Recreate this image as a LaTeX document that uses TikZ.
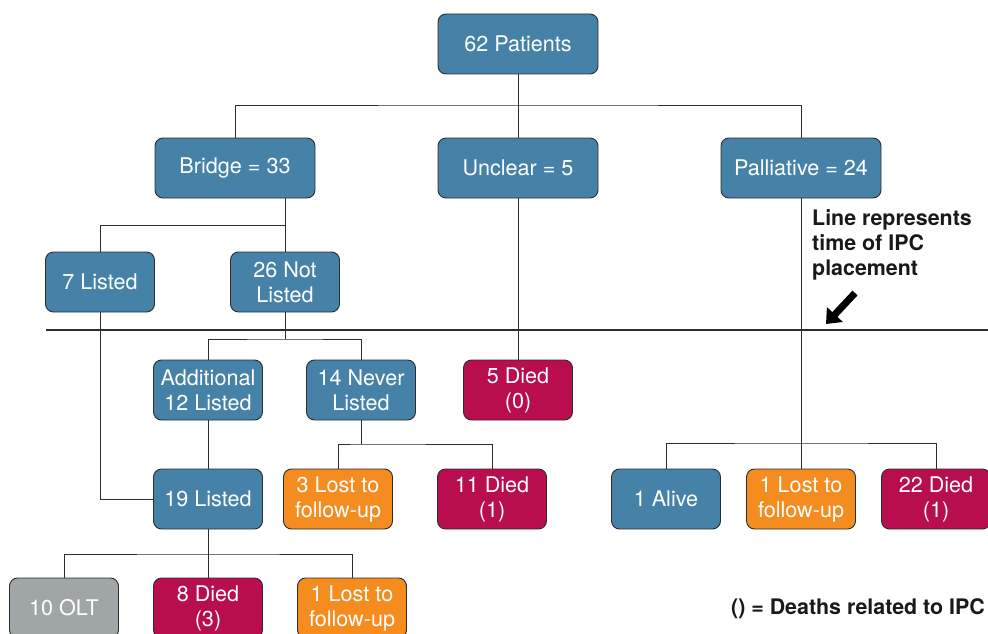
\documentclass[tikz,border=0pt]{standalone}
\usepackage{fontspec}
\setmainfont{TeX Gyre Heros}
\usetikzlibrary{arrows.meta}
\definecolor{blueC}{RGB}{70,130,168}
\definecolor{redC}{RGB}{184,14,80}
\definecolor{orangeC}{RGB}{245,140,32}
\definecolor{grayC}{RGB}{160,165,168}
\definecolor{lineC}{RGB}{45,45,45}
\begin{document}
\begin{tikzpicture}[x=1pt,y=-1pt,
  box/.style={draw=lineC, line width=0.9pt, rounded corners=8pt, minimum height=60pt,
    minimum width=109pt, text=white, align=center, inner sep=2pt,
    font=\fontsize{21.6}{25}\selectfont},
  wide/.style={box, minimum width=160pt},
  bluebox/.style={box, fill=blueC},
  redbox/.style={box, fill=redC},
  orangebox/.style={box, fill=orangeC},
  graybox/.style={box, fill=grayC},
  conn/.style={draw=lineC, line width=0.9pt},
  note/.style={font=\fontsize{21.4}{25}\selectfont\bfseries, text=black!90, inner sep=0pt, align=left}
]
\useasboundingbox (0,0) rectangle (988,634);

% nodes
\node[bluebox, wide] (p62) at (518,44) {62 Patients};
\node[bluebox, wide] (bridge) at (235,168) {Bridge = 33};
\node[bluebox, wide] (unclear) at (518,168) {Unclear = 5};
\node[bluebox, wide] (pall) at (801,168) {Palliative = 24};
\node[bluebox] (l7) at (100,282) {7 Listed};
\node[bluebox] (nl26) at (285,282) {26 Not\\Listed};
\node[bluebox] (add12) at (208,390) {Additional\\12 Listed};
\node[bluebox] (never14) at (361,390) {14 Never\\Listed};
\node[redbox] (died5) at (518,390) {5 Died\\(0)};
\node[bluebox] (l19) at (208,499) {19 Listed};
\node[orangebox] (lost3) at (338,499) {3 Lost to\\follow-up};
\node[redbox] (died11) at (492,499) {11 Died\\(1)};
\node[bluebox] (alive1) at (666,499) {1 Alive};
\node[orangebox] (lost1) at (801,499) {1 Lost to\\follow-up};
\node[redbox] (died22) at (936,499) {22 Died\\(1)};
\node[graybox] (olt10) at (64,608) {10 OLT};
\node[redbox] (died8) at (208,608) {8 Died\\(3)};
\node[orangebox] (lost1b) at (352,608) {1 Lost to\\follow-up};

% junctions
\coordinate (j1) at (518,105);
\coordinate (j2) at (285,225);
\coordinate (j3) at (285,339);
\coordinate (j4) at (361,444);
\coordinate (j5) at (801,443);
\coordinate (j6) at (208,554);

% connectors
\draw[conn] (p62.south) -- (unclear.north);
\draw[conn] (bridge.north) |- (j1) -| (pall.north);
\draw[conn] (nl26.north) -- (nl26.north |- bridge.south);
\draw[conn] (l7.north) |- (j2);
\draw[conn] (nl26.south) -- (j3);
\draw[conn] (add12.north) |- (j3) -| (never14.north);
\draw[conn] (l7.south) |- (l19.west);
\draw[conn] (add12.south) -- (l19.north);
\draw[conn] (never14.south) -- (j4);
\draw[conn] (lost3.north) |- (j4) -| (died11.north);
\draw[conn] (unclear.south) -- (died5.north);
\draw[conn] (pall.south) -- (lost1.north);
\draw[conn] (alive1.north) |- (j5) -| (died22.north);
\draw[conn] (l19.south) -- (died8.north);
\draw[conn] (olt10.north) |- (j6) -| (lost1b.north);

% IPC placement line
\coordinate (ipcL) at (46,330);
\coordinate (ipcR) at (990,330);
\draw[draw=lineC, line width=2.4pt] (ipcL) -- (ipcR);

% annotation
\node[note, anchor=north west] (ann) at (812,209) {Line represents\\time of IPC\\placement};
\coordinate (arT) at (855,293);
\coordinate (arH) at (826,324);
\draw[black, line width=7pt, -{Triangle[width=21pt,length=13pt]}] (arT) -- (arH);

\node[note, anchor=base east] (legend) at (985,614) {() = Deaths related to IPC};
\end{tikzpicture}
\end{document}
